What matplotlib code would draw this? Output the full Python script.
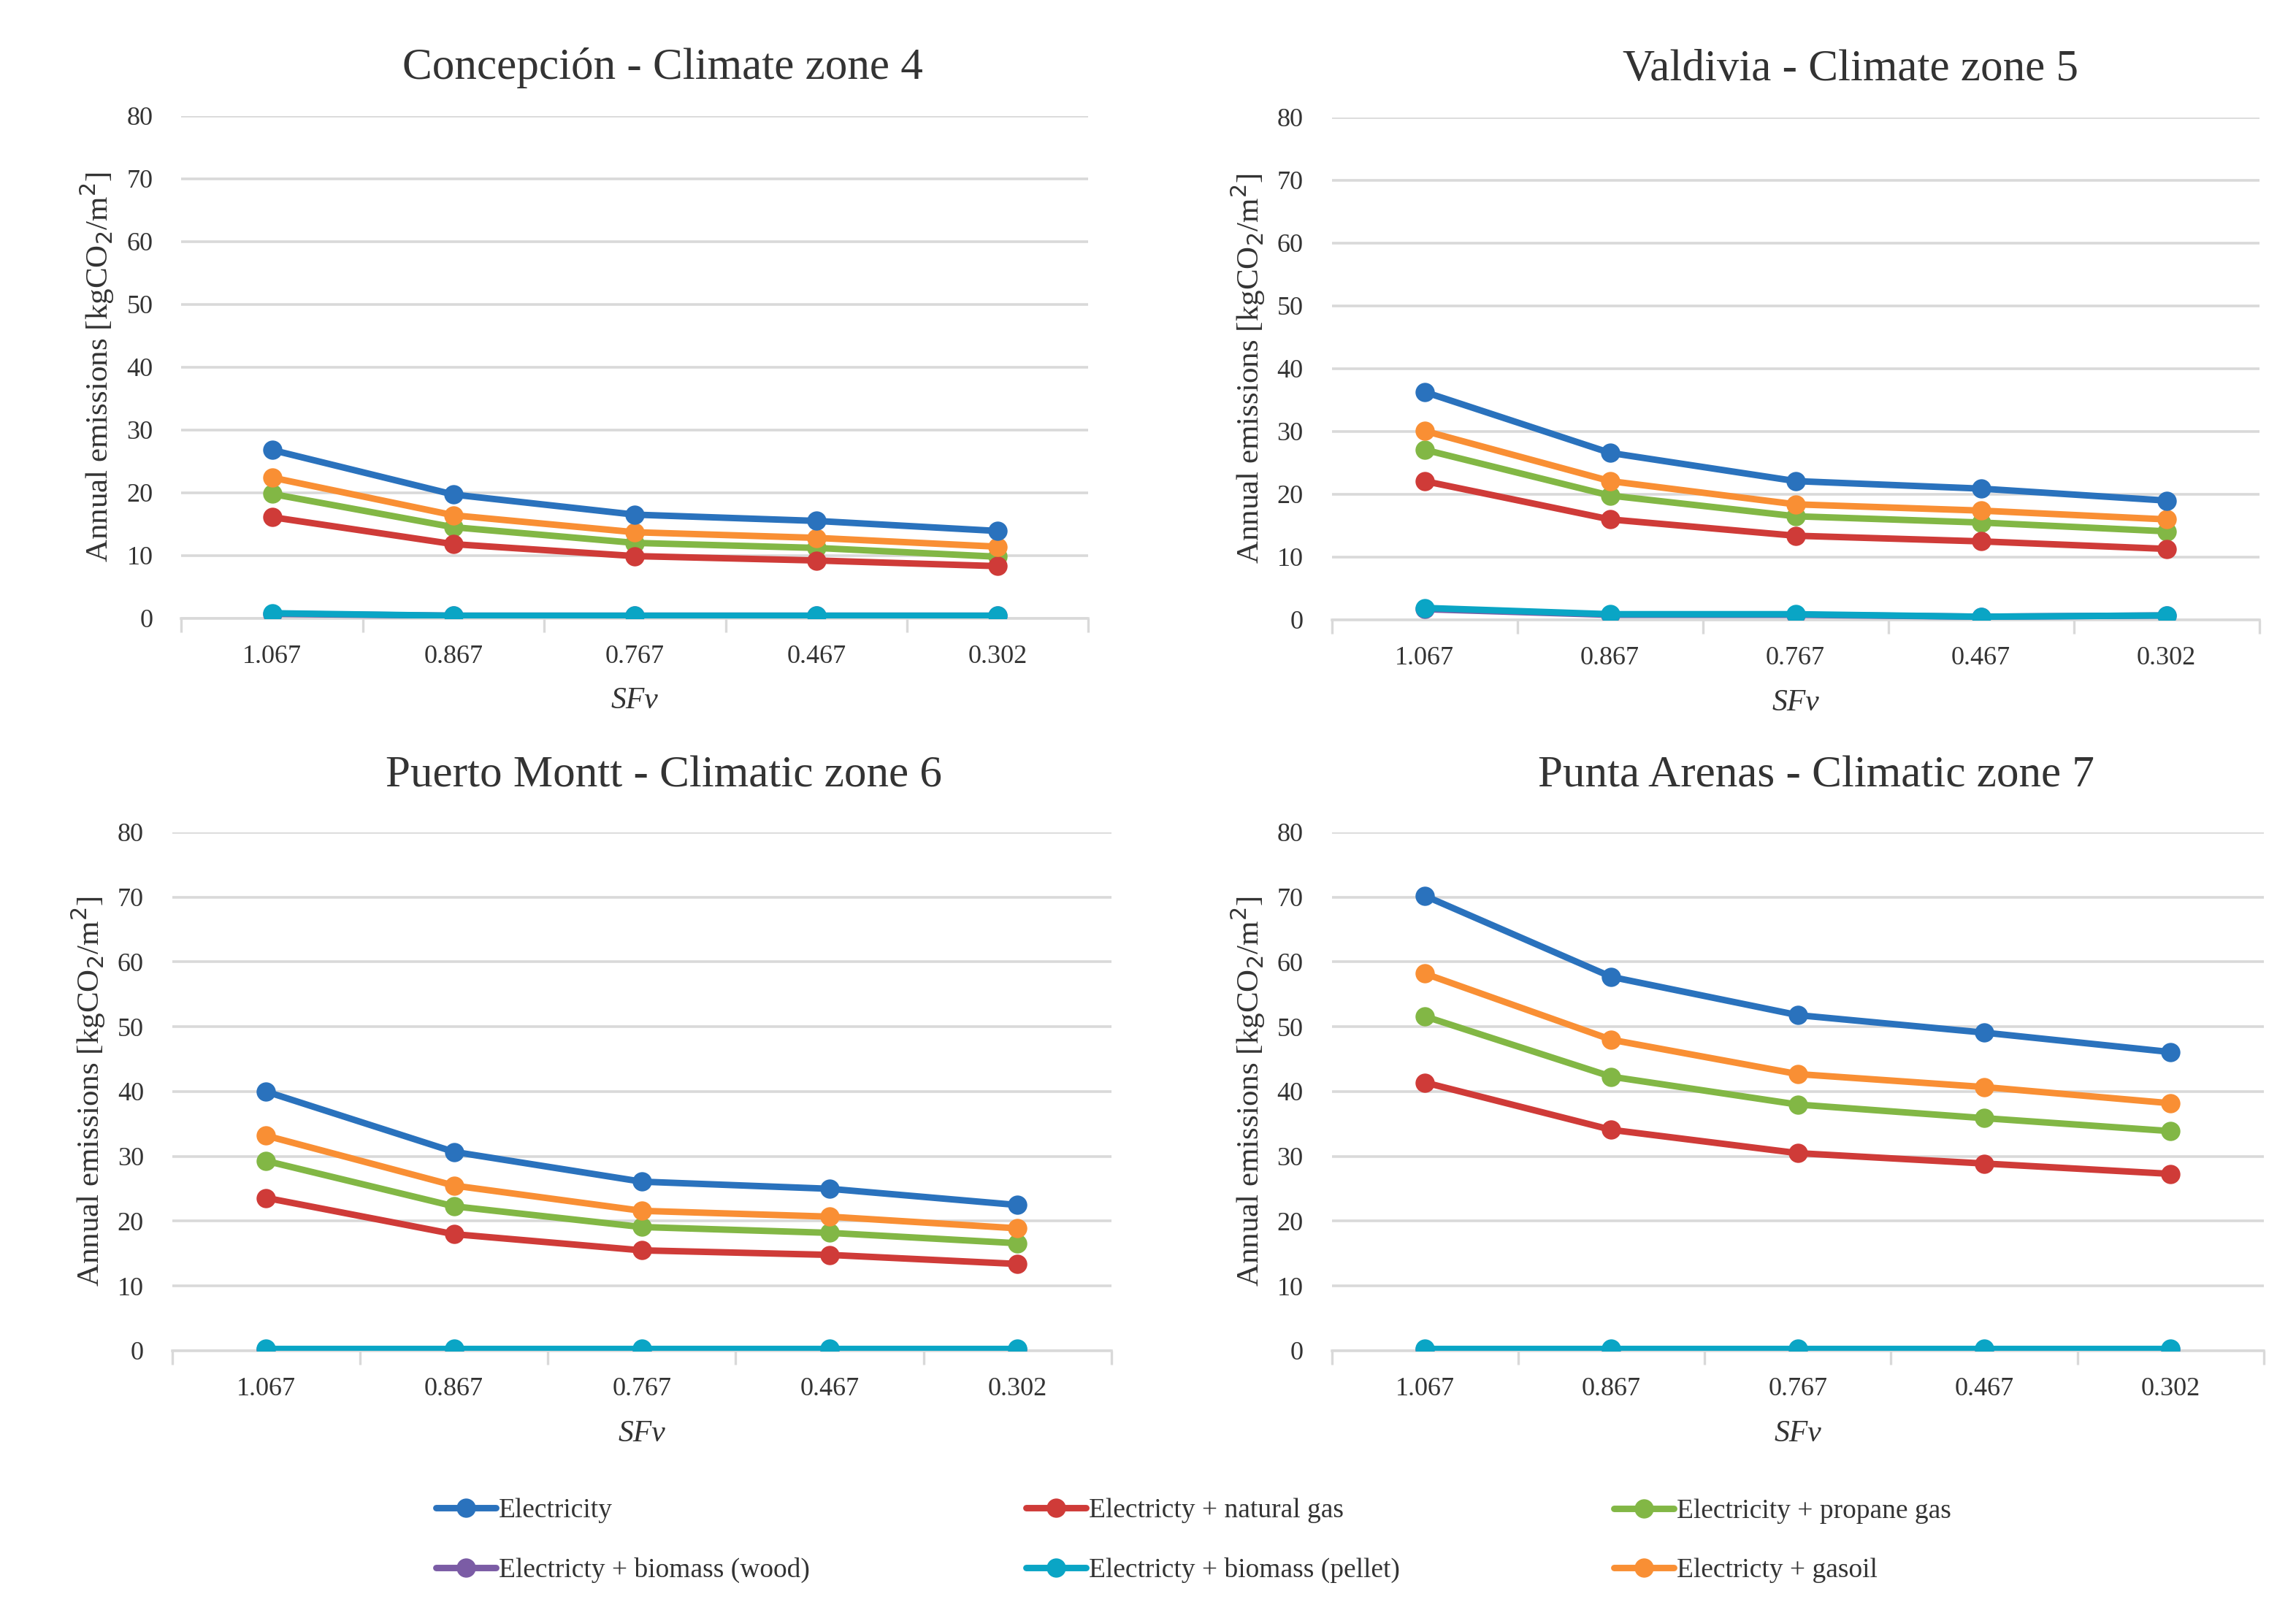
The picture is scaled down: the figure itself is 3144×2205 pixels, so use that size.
import matplotlib.pyplot as plt

# SFv categories shared by all four panels
sfv_labels = ["1.067", "0.867", "0.767", "0.467", "0.302"]

series_names = [
    "Electricity",
    "Electricty + natural gas",
    "Electricity + propane gas",
    "Electricty + biomass (wood)",
    "Electricty + biomass (pellet)",
    "Electricty + gasoil",
]
series_colors = ["#2A72BD", "#CF3B38", "#82B745", "#7B5CA5", "#0AA5C5", "#F98F34"]

panel_titles = [
    "Concepción - Climate zone 4",
    "Valdivia - Climate zone 5",
    "Puerto Montt - Climatic zone 6",
    "Punta Arenas - Climatic zone 7",
]

# Annual emissions [kgCO2/m2], order of series_names
concepcion = [
    [26.8, 19.7, 16.5, 15.5, 13.9],
    [16.1, 11.8, 9.9, 9.2, 8.3],
    [19.8, 14.5, 12.0, 11.2, 9.8],
    [0.7, 0.4, 0.4, 0.4, 0.4],
    [0.8, 0.4, 0.4, 0.4, 0.4],
    [22.4, 16.4, 13.7, 12.8, 11.4],
]
valdivia = [
    [36.3, 26.6, 22.1, 20.9, 19.0],
    [22.1, 16.0, 13.4, 12.5, 11.3],
    [27.1, 19.8, 16.5, 15.5, 14.1],
    [1.7, 0.8, 0.8, 0.5, 0.7],
    [1.9, 0.9, 0.9, 0.5, 0.7],
    [30.1, 22.1, 18.4, 17.4, 16.0],
]
puerto_montt = [
    [40.0, 30.7, 26.1, 25.0, 22.5],
    [23.6, 18.0, 15.5, 14.8, 13.4],
    [29.3, 22.3, 19.1, 18.2, 16.6],
    [0.2, 0.2, 0.2, 0.2, 0.2],
    [0.3, 0.3, 0.3, 0.3, 0.3],
    [33.2, 25.5, 21.6, 20.7, 18.9],
]
punta_arenas = [
    [70.2, 57.7, 51.8, 49.1, 46.1],
    [41.4, 34.1, 30.5, 28.9, 27.3],
    [51.6, 42.3, 38.0, 35.9, 33.9],
    [0.2, 0.2, 0.2, 0.2, 0.2],
    [0.3, 0.3, 0.3, 0.3, 0.3],
    [58.2, 48.0, 42.7, 40.7, 38.2],
]
panel_data = [concepcion, valdivia, puerto_montt, punta_arenas]

# axes rectangles [left, bottom, width, height] in figure fraction
panel_rects = [
    [0.079, 0.616, 0.395, 0.312],
    [0.580, 0.615, 0.404, 0.312],
    [0.075, 0.161, 0.409, 0.322],
    [0.580, 0.161, 0.406, 0.322],
]
# titles are centred on the whole chart area (incl. axis labels), not the plot
title_pos = [(0.2885, 0.958), (0.806, 0.957), (0.289, 0.518), (0.791, 0.518)]

plt.rcParams["font.family"] = ["Liberation Serif", "DejaVu Serif"]
text_color = "#333333"
grid_color = "#D9D9D9"

fig = plt.figure(figsize=(15.72, 11.025), dpi=200)
x = list(range(len(sfv_labels)))
handles = []

for title, data, rect, (tx, ty) in zip(panel_titles, panel_data,
                                      panel_rects, title_pos):
    ax = fig.add_axes(rect)
    # draw wood before pellet so the pellet line sits on top, as in the source
    order = [3, 4, 2, 1, 5, 0]
    lines = {}
    for i in order:
        (ln,) = ax.plot(
            x, data[i], color=series_colors[i], lw=3.2, marker="o",
            markersize=8.5, solid_capstyle="round", zorder=3,
            label=series_names[i],
        )
        lines[i] = ln
    handles = [lines[i] for i in range(len(series_names))]

    ax.set_xlim(-0.5, len(sfv_labels) - 0.5)
    ax.set_ylim(0, 80)
    ax.set_yticks(range(0, 81, 10))
    ax.set_xticks(x)
    ax.set_xticklabels(sfv_labels)
    ax.set_xticks([i - 0.5 for i in range(len(sfv_labels) + 1)], minor=True)
    ax.tick_params(axis="x", which="major", length=0, pad=13,
                   labelsize=13, colors=text_color)
    ax.tick_params(axis="x", which="minor", length=7, width=1.2,
                   color=grid_color)
    ax.tick_params(axis="y", length=0, pad=14, labelsize=13,
                   colors=text_color)
    ax.grid(axis="y", color=grid_color, lw=1.3, zorder=0)
    for side in ["top", "right", "left"]:
        ax.spines[side].set_visible(False)
    ax.spines["bottom"].set_color(grid_color)
    ax.spines["bottom"].set_linewidth(1.3)

    fig.text(tx, ty, title, fontsize=22, color=text_color,
             ha="center", va="center")
    ax.set_xlabel("SFv", fontsize=15, style="italic", color=text_color,
                  labelpad=9)
    ax.set_ylabel("Annual emissions [kgCO$_2$/m$^2$]", fontsize=15.5,
                  color=text_color, labelpad=5)

# legend laid out row by row in three fixed columns, like the source
legend_cols = [(0, 3), (1, 4), (2, 5)]
legend_x = [0.185, 0.442, 0.698]
for (top, bottom), lx in zip(legend_cols, legend_x):
    fig.legend(
        handles=[handles[top], handles[bottom]],
        labels=[series_names[top], series_names[bottom]],
        loc="center left",
        bbox_to_anchor=(lx, 0.043),
        ncol=1,
        frameon=False,
        fontsize=13.5,
        handlelength=2.2,
        handletextpad=0.1,
        labelspacing=1.25,
        labelcolor=text_color,
        borderaxespad=0,
    )

fig.savefig("out.png", dpi=200, facecolor="white")
